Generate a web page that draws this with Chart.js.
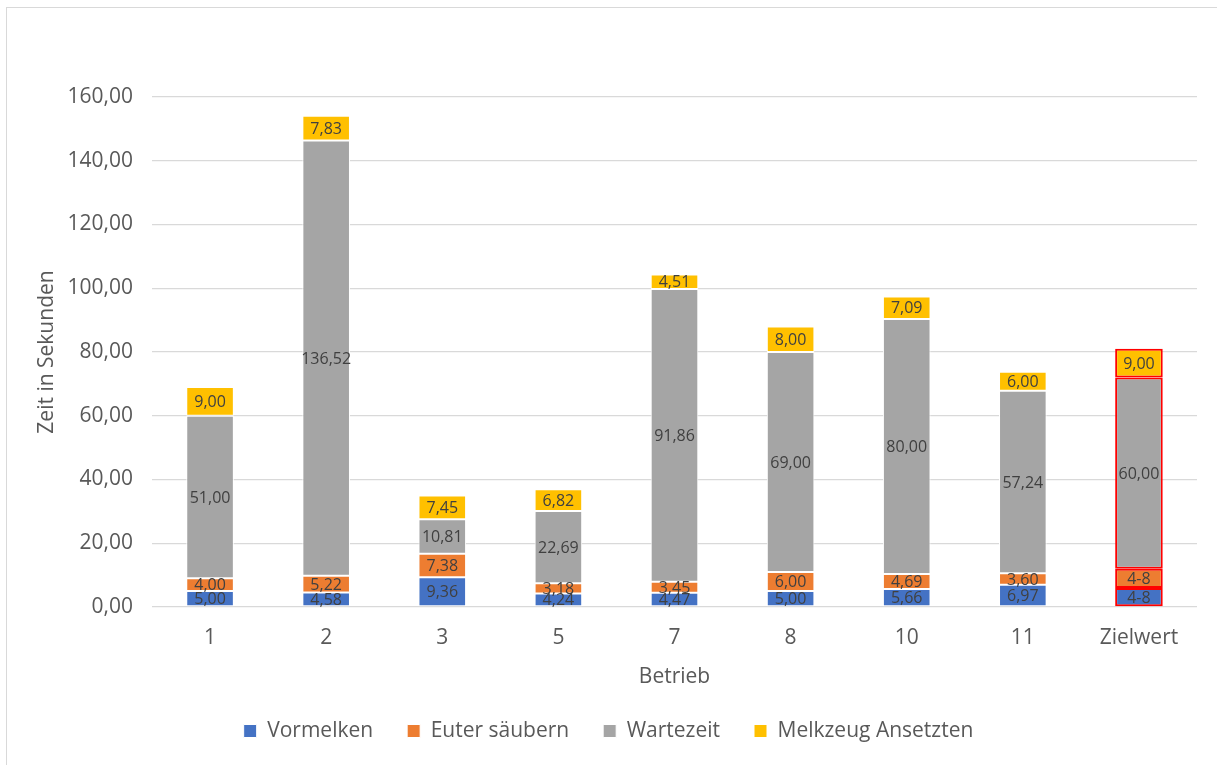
<!DOCTYPE html>
<html lang="de">
<head>
<meta charset="utf-8">
<title>Melkvorbereitung je Betrieb</title>
<script src="https://cdn.jsdelivr.net/npm/chart.js@4/dist/chart.umd.min.js"></script>
<style>
  html, body { margin: 0; padding: 0; background: #fff; }
  .frame {
    position: absolute; left: 6px; top: 7px; width: 1220px; height: 770px;
    border: 1px solid #d9d9d9; box-sizing: border-box;
  }
  .wrap { position: absolute; left: 0; top: 0; width: 1217px; height: 765px; }
</style>
</head>
<body>
<div class="frame"></div>
<div class="wrap"><canvas id="zeitChart"></canvas></div>
<script>
// Betriebe und Zeitanteile (Sekunden)
const betriebe = ['1', '2', '3', '5', '7', '8', '10', '11', 'Zielwert'];
const vormelken = [5.00, 4.58, 9.36, 4.24, 4.47, 5.00, 5.66, 6.97, 6.00];
const euterSaeubern = [4.00, 5.22, 7.38, 3.18, 3.45, 6.00, 4.69, 3.60, 6.00];
const wartezeit = [51.00, 136.52, 10.81, 22.69, 91.86, 69.00, 80.00, 57.24, 60.00];
const melkzeugAnsetzen = [9.00, 7.83, 7.45, 6.82, 4.51, 8.00, 7.09, 6.00, 9.00];
// Zielwert-Bereich statt Zahl bei den ersten beiden Anteilen
const zielBereich = ['4-8', '4-8', null, null];

const zielIdx = betriebe.indexOf('Zielwert');
const FONT = "'Open Sans', 'Noto Sans', sans-serif";
const fmt = v => Number(v).toFixed(2).replace('.', ',');

function serie(label, data, color) {
  return {
    label, data,
    backgroundColor: color,
    borderColor: ctx => ctx.dataIndex === zielIdx ? '#ff0000' : '#ffffff',
    borderWidth: ctx => ctx.dataIndex === zielIdx ? 2 : 1,
    borderSkipped: false,
    barPercentage: 0.41,
    categoryPercentage: 1
  };
}

// Wertbeschriftung mittig im Segment
const segmentLabels = {
  id: 'segmentLabels',
  afterDatasetsDraw(chart) {
    const { ctx } = chart;
    ctx.save();
    ctx.font = `16px ${FONT}`;
    ctx.fillStyle = '#404040';
    ctx.textAlign = 'center';
    ctx.textBaseline = 'middle';
    chart.data.datasets.forEach((ds, di) => {
      chart.getDatasetMeta(di).data.forEach((bar, i) => {
        let txt = fmt(ds.data[i]);
        if (i === zielIdx && zielBereich[di]) txt = zielBereich[di];
        ctx.fillText(txt, bar.x, (bar.y + bar.base) / 2 + 1);
      });
    });
    ctx.restore();
  }
};

new Chart(document.getElementById('zeitChart'), {
  type: 'bar',
  data: {
    labels: betriebe,
    datasets: [
      serie('Vormelken', vormelken, '#4472c4'),
      serie('Euter säubern', euterSaeubern, '#ed7d31'),
      serie('Wartezeit', wartezeit, '#a5a5a5'),
      serie('Melkzeug Ansetzten', melkzeugAnsetzen, '#ffc000')
    ]
  },
  options: {
    responsive: true, maintainAspectRatio: false,
    animation: false,
    layout: { padding: { left: 20, right: 20, top: 97, bottom: 13.5 } },
    plugins: {
      tooltip: { enabled: false },
      legend: {
        position: 'bottom',
        labels: {
          font: { family: FONT, size: 21 },
          color: '#595959',
          boxWidth: 13, boxHeight: 13,
          padding: 34
        }
      }
    },
    scales: {
      x: {
        stacked: true,
        grid: { display: false, drawTicks: false },
        border: { display: false },
        ticks: { font: { family: FONT, size: 21 }, color: '#595959', padding: 18 },
        title: {
          display: true, text: 'Betrieb',
          font: { family: FONT, size: 21 }, color: '#595959',
          padding: { top: 0, bottom: -3 }
        },
        afterFit: s => { s.height = 79.5; }
      },
      y: {
        stacked: true,
        min: 0, max: 160,
        ticks: {
          stepSize: 20,
          font: { family: FONT, size: 21 }, color: '#595959', padding: 19,
          callback: v => fmt(v)
        },
        grid: { color: '#d9d9d9', lineWidth: 1.3, drawTicks: false },
        border: { display: false },
        title: {
          display: true, text: 'Zeit in Sekunden',
          font: { family: FONT, size: 21 }, color: '#595959',
          padding: { top: 14, bottom: 0 }
        },
        afterFit: s => { s.width = 132; }
      }
    }
  },
  plugins: [segmentLabels]
});
</script>
</body>
</html>
